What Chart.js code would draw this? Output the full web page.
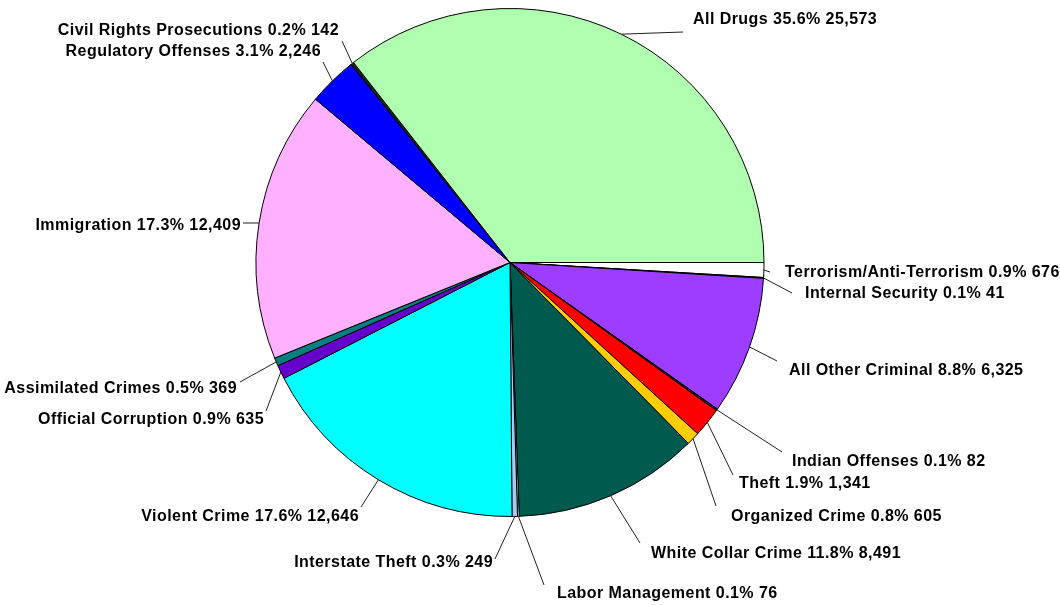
<!DOCTYPE html>
<html>
<head>
<meta charset="utf-8">
<script src="https://cdn.jsdelivr.net/npm/chart.js@4/dist/chart.umd.min.js"></script>
<style>
  html, body { margin: 0; padding: 0; background: #ffffff; }
  #wrap { width: 1060px; height: 605px; }
</style>
</head>
<body>
<div id="wrap"><canvas id="c" width="1060" height="605"></canvas></div>
<script>
// Categories in drawing order (clockwise from 3 o'clock)
const categories = [
  "Terrorism/Anti-Terrorism",
  "Internal Security",
  "All Other Criminal",
  "Indian Offenses",
  "Theft",
  "Organized Crime",
  "White Collar Crime",
  "Labor Management",
  "Interstate Theft",
  "Violent Crime",
  "Official Corruption",
  "Assimilated Crimes",
  "Immigration",
  "Regulatory Offenses",
  "Civil Rights Prosecutions",
  "All Drugs"
];
const values = [676, 41, 6325, 82, 1341, 605, 8491, 76, 249, 12646, 635, 369, 12409, 2246, 142, 25573];
const colors = [
  "#FFFFFF", "#202020", "#9D3DFF", "#202020", "#FF0000", "#FFCC00", "#005A4E", "#CCFFFF",
  "#A6CAF0", "#00FFFF", "#6600CC", "#008080", "#FFB0FF", "#0000FF", "#202020", "#B0FFB0"
];

// Label layout: text anchor (x, y, align) and leader-line end point
const labelLayout = [
  { tx: 785, ty: 273, align: "left",  lx: 770, ly: 272 },
  { tx: 805, ty: 294, align: "left",  lx: 792, ly: 293 },
  { tx: 789, ty: 371, align: "left",  lx: 777, ly: 361 },
  { tx: 792, ty: 462, align: "left",  lx: 782, ly: 452 },
  { tx: 739, ty: 484, align: "left",  lx: 733, ly: 475 },
  { tx: 731, ty: 517, align: "left",  lx: 716, ly: 506 },
  { tx: 651, ty: 554, align: "left",  lx: 640, ly: 543 },
  { tx: 557, ty: 594, align: "left",  lx: 544, ly: 585 },
  { tx: 493, ty: 563, align: "right", lx: 495, ly: 559 },
  { tx: 359, ty: 517, align: "right", lx: 361, ly: 507 },
  { tx: 264, ty: 420, align: "right", lx: 266, ly: 411 },
  { tx: 237, ty: 389, align: "right", lx: 240, ly: 382 },
  { tx: 241, ty: 226, align: "right", lx: 243, ly: 223 },
  { tx: 321, ty: 52,  align: "right", lx: 323, ly: 62 },
  { tx: 339, ty: 31,  align: "right", lx: 342, ly: 41 },
  { tx: 693, ty: 20,  align: "left",  lx: 683, ly: 32 }
];

const total = values.reduce((a, b) => a + b, 0);
function labelText(i) {
  const pct = (values[i] / total * 100).toFixed(1);
  return categories[i] + " " + pct + "% " + values[i].toLocaleString("en-US");
}

const labelPlugin = {
  id: "pieLabels",
  afterDatasetsDraw(chart) {
    const ctx = chart.ctx;
    const meta = chart.getDatasetMeta(0);
    ctx.save();
    meta.data.forEach((arc, i) => {
      const p = arc.getProps(["x", "y", "startAngle", "endAngle", "outerRadius"], true);
      const mid = (p.startAngle + p.endAngle) / 2;
      const sx = p.x + Math.cos(mid) * p.outerRadius;
      const sy = p.y + Math.sin(mid) * p.outerRadius;
      const L = labelLayout[i];
      ctx.strokeStyle = "#202020";
      ctx.lineWidth = 1;
      ctx.beginPath();
      ctx.moveTo(sx, sy);
      ctx.lineTo(L.lx, L.ly);
      ctx.stroke();
      ctx.fillStyle = "#000000";
      ctx.font = "bold 16px 'Liberation Sans', Arial, sans-serif";
      if ("letterSpacing" in ctx) ctx.letterSpacing = "0.45px";
      ctx.textAlign = L.align;
      ctx.textBaseline = "middle";
      ctx.fillText(labelText(i), L.tx, L.ty);
    });
    ctx.restore();
  }
};

new Chart(document.getElementById("c"), {
  type: "pie",
  data: {
    labels: categories,
    datasets: [{
      data: values,
      backgroundColor: colors,
      borderColor: "#000000",
      borderWidth: 1
    }]
  },
  options: {
    responsive: false,
    animation: false,
    rotation: 90,
    layout: { padding: { left: 10, right: 50, top: 8, bottom: 88 } },
    plugins: {
      legend: { display: false },
      tooltip: { enabled: false }
    }
  },
  plugins: [labelPlugin]
});
</script>
</body>
</html>
